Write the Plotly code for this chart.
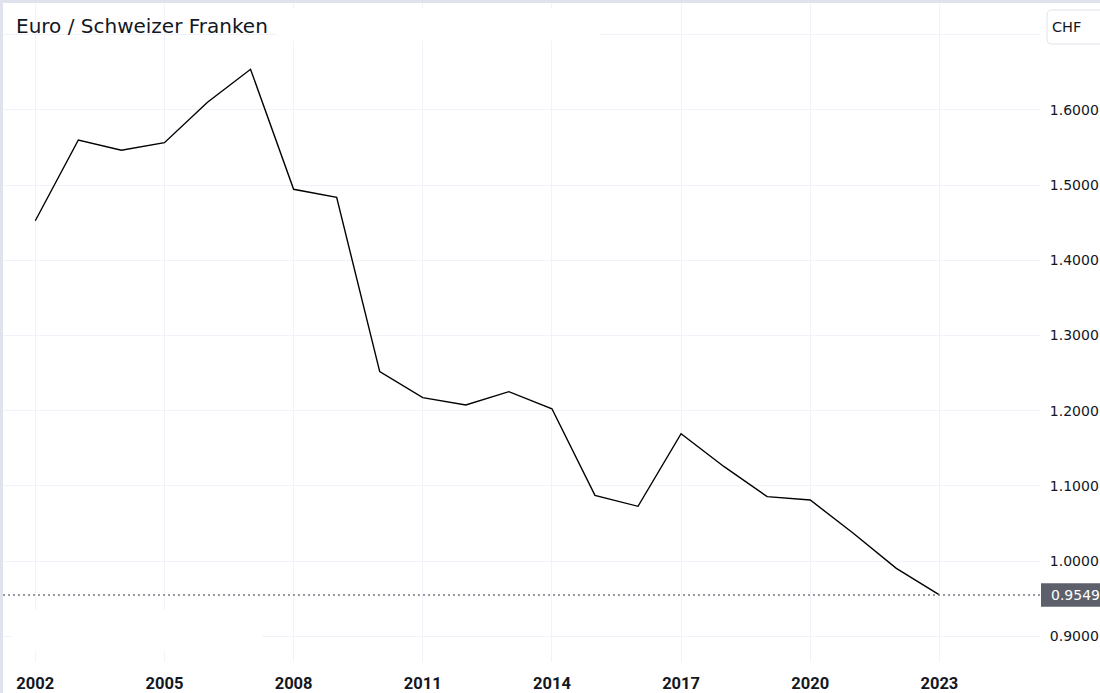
import plotly.graph_objects as go

# ---- data ----
years = [2002, 2003, 2004, 2005, 2006, 2007, 2008, 2009, 2010, 2011, 2012,
         2013, 2014, 2015, 2016, 2017, 2018, 2019, 2020, 2021, 2022, 2023]
eur_chf = [1.4527, 1.5601, 1.5464, 1.5565, 1.6102, 1.6541, 1.4945, 1.4839,
           1.2519, 1.2173, 1.2076, 1.2253, 1.2026, 1.0874, 1.0728, 1.1694,
           1.1255, 1.0856, 1.0812, 1.0370, 0.9903, 0.9549]
x_ticks = [2002, 2005, 2008, 2011, 2014, 2017, 2020, 2023]
y_ticks = [0.9, 1.0, 1.1, 1.2, 1.3, 1.4, 1.5, 1.6, 1.7]
y_labels = ["0.9000", "1.0000", "1.1000", "1.2000", "1.3000", "1.4000", "1.5000", "1.6000", ""]
title_text = "Euro / Schweizer Franken"
currency = "CHF"

# ---- layout geometry (pixels) ----
W, H = 1100, 693
ML, MR, MT, MB = 3, 59, 3, 31
PW = W - ML - MR
PH = H - MT - MB


def px(x):
    return (x - ML) / PW


def py(y):
    return (H - MB - y) / PH


def rounded_rect(x0, y0, x1, y1, r):
    # pixel coords -> paper path with rounded corners
    X0, X1 = px(x0), px(x1)
    Y0, Y1 = py(y0), py(y1)  # Y0 top, Y1 bottom
    rx, ry = r / PW, r / PH
    return (f"M {X0},{Y0 - ry} Q {X0},{Y0} {X0 + rx},{Y0} "
            f"L {X1 - rx},{Y0} Q {X1},{Y0} {X1},{Y0 - ry} "
            f"L {X1},{Y1 + ry} Q {X1},{Y1} {X1 - rx},{Y1} "
            f"L {X0 + rx},{Y1} Q {X0},{Y1} {X0},{Y1 + ry} Z")


fig = go.Figure()
fig.add_trace(go.Scatter(x=years, y=eur_chf, mode="lines",
                         line=dict(color="#000000", width=1.4),
                         hoverinfo="skip", showlegend=False))

grid = "#f0f3fa"
text_col = "#131722"
last = eur_chf[-1]

shapes = [
    # white panel (rounded top-left) over gray page background
    dict(type="path", xref="paper", yref="paper", layer="below",
         path=rounded_rect(3, 3, 1110, 710, 6),
         fillcolor="#ffffff", line=dict(width=0)),
    # dotted last-price line
    dict(type="line", xref="paper", yref="y", x0=0, x1=1, y0=last, y1=last,
         line=dict(color="#787b86", width=1.5, dash="2px,3px"), layer="above"),
    # white blank legend boxes
    dict(type="rect", xref="paper", yref="paper", layer="above",
         x0=px(277), x1=px(600), y0=py(41), y1=py(8),
         fillcolor="#ffffff", line=dict(width=0)),
    dict(type="rect", xref="paper", yref="paper", layer="above",
         x0=px(12), x1=px(262), y0=py(652), y1=py(610),
         fillcolor="#ffffff", line=dict(width=0)),
    # last-price tag
    dict(type="rect", xref="paper", yref="y", layer="above",
         x0=1.0, x1=px(1110), ysizemode="pixel", yanchor=last,
         y0=-11.7, y1=11.7, fillcolor="#5d606b", line=dict(width=0)),
    # currency button
    dict(type="path", xref="paper", yref="paper", layer="above",
         path=rounded_rect(1047, 10, 1115, 44, 5),
         fillcolor="#ffffff", line=dict(color="#e0e3eb", width=1)),
]

annotations = [
    dict(text=title_text, xref="paper", yref="paper", x=px(14), y=py(26),
         xanchor="left", yanchor="middle", showarrow=False,
         font=dict(family="DejaVu Sans", size=20, color=text_col)),
    dict(text=f"{last:.4f}", xref="paper", yref="y", x=px(1049), y=last,
         xanchor="left", yanchor="middle", showarrow=False,
         font=dict(family="DejaVu Sans", size=14, color="#ffffff")),
    dict(text=currency, xref="paper", yref="paper", x=px(1050), y=py(27),
         xanchor="left", yanchor="middle", showarrow=False,
         font=dict(family="DejaVu Sans", size=14.5, color=text_col)),
]

fig.update_layout(
    width=W, height=H,
    margin=dict(l=ML, r=MR, t=MT, b=MB, pad=0),
    paper_bgcolor="#e0e3eb",
    plot_bgcolor="#ffffff",
    shapes=shapes,
    annotations=annotations,
    xaxis=dict(range=[2001.25, 2025.36], tickmode="array", tickvals=x_ticks,
               ticktext=[str(t) for t in x_ticks], automargin=False,
               showgrid=True, gridcolor=grid, gridwidth=1,
               zeroline=False, showline=False,
               ticks="outside", ticklen=6, tickcolor="rgba(0,0,0,0)",
               tickfont=dict(family="Roboto", size=16.5, color=text_col, weight="bold")),
    yaxis=dict(range=[0.8657, 1.7423], side="right", tickmode="array",
               tickvals=y_ticks, ticktext=y_labels, automargin=False,
               showgrid=True, gridcolor=grid, gridwidth=1,
               zeroline=False, showline=False,
               ticks="outside", ticklen=5, tickcolor="rgba(0,0,0,0)",
               tickfont=dict(family="DejaVu Sans", size=14, color=text_col)),
)

fig.write_html("out.html")
